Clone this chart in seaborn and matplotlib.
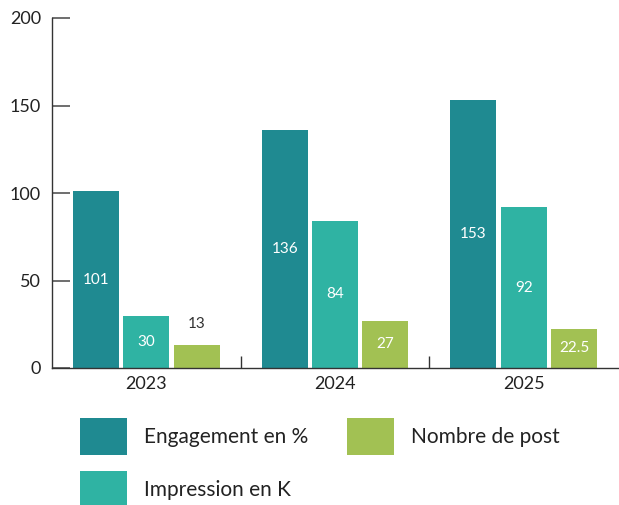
import matplotlib
matplotlib.use("Agg")
import matplotlib.pyplot as plt
import seaborn as sns
import pandas as pd
from matplotlib.patches import Patch

years = ["2023", "2024", "2025"]
series = ["Engagement en %", "Impression en K", "Nombre de post"]
engagement = [101, 136, 153]
impression = [30, 84, 92]
posts = [13, 27, 22.5]
colors = ["#1F8A91", "#2FB3A3", "#A2C153"]
yticks = [0, 50, 100, 150, 200]

df = pd.DataFrame({
    "year": years * 3,
    "series": [s for s in series for _ in years],
    "value": engagement + impression + posts,
})

sns.set_theme(style="white")
plt.rcParams["font.family"] = ["Lato", "DejaVu Sans"]

fig = plt.figure(figsize=(6.19, 5.05), dpi=100)
ax = fig.add_axes([52 / 619, 137 / 505, 566 / 619, 350 / 505])

sns.barplot(data=df, x="year", y="value", hue="series", palette=colors,
            width=0.8, gap=0.09, ax=ax, legend=False, saturation=1,
            linewidth=0, edgecolor="none")

ax.set_ylim(0, 200)
ax.set_xlim(-0.5, 2.5)
ax.set_yticks(yticks)
ax.set_xlabel("")
ax.set_ylabel("")
for s in ["top", "right"]:
    ax.spines[s].set_visible(False)
for s in ["left", "bottom"]:
    ax.spines[s].set_color("#333333")
    ax.spines[s].set_linewidth(1.0)

ax.tick_params(axis="y", left=True, direction="in", length=13, width=1.2,
               color="#555555", labelsize=13, labelcolor="#222222", pad=8)
ax.tick_params(axis="x", which="major", bottom=True, length=0, labelsize=13,
               labelcolor="#222222", pad=6)
ax.set_xticks([0.5, 1.5], minor=True)
ax.tick_params(axis="x", which="minor", bottom=True, direction="in", length=9,
               width=1.0, color="#333333")

for container in ax.containers:
    for bar in container:
        h = bar.get_height()
        cx = bar.get_x() + bar.get_width() / 2
        txt = f"{h:g}"
        if h < 20:
            ax.text(cx, h + 8, txt, ha="center", va="bottom", fontsize=11,
                    color="#333333")
        else:
            ax.text(cx, h / 2, txt, ha="center", va="center", fontsize=11,
                    color="white")

handles = [Patch(facecolor=c, edgecolor="none") for c in colors]
fig.legend(handles, series, loc="upper left", bbox_to_anchor=(72 / 619, 1 - 410 / 505),
           ncol=2, frameon=False, fontsize=15, handlelength=2.26,
           handleheight=2.36, handletextpad=0.8, columnspacing=1.85,
           labelspacing=0.75, labelcolor="#222222", borderaxespad=0)

fig.savefig("out.png", dpi=100)
